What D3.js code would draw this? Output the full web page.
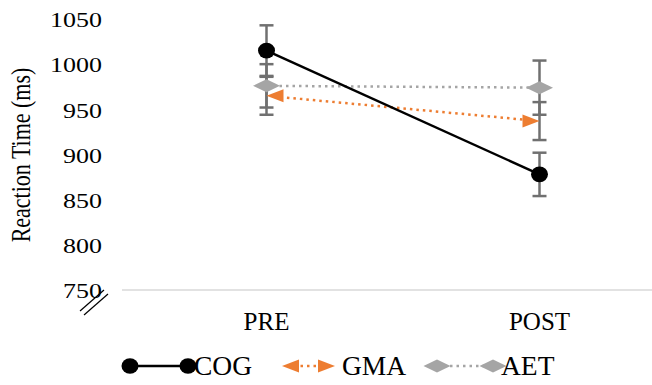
<!DOCTYPE html>
<html><head><meta charset="utf-8">
<script src="https://cdn.jsdelivr.net/npm/d3@7"></script>
<style>body{margin:0;background:#fff}svg{display:block}text{font-family:"Liberation Serif","Times New Roman",serif;fill:#000}</style>
</head><body><svg id="c" width="652" height="385"></svg>
<script>
const categories = ["PRE", "POST"];
const seriesNames = ["COG", "GMA", "AET"];
const cogValues = [1015, 878];
const cogErrors = [28, 24];
const gmaValues = [965, 937];
const gmaErrors = [21, 21];
const aetValues = [976, 974];
const aetErrors = [24, 30];
const yTicks = [750, 800, 850, 900, 950, 1000, 1050];
const yLabel = "Reaction Time (ms)";

const svg = d3.select("#c");
const x = d3.scalePoint().domain(categories).range([130, 676]).padding(0.5);
const y = d3.scaleLinear().domain([750, 1050]).range([290, 19]);

const series = [
  {name: seriesNames[0], values: cogValues, errors: cogErrors, color: "#000", dash: null, marker: "circle"},
  {name: seriesNames[1], values: gmaValues, errors: gmaErrors, color: "#ed7d31", dash: "2.5,4", marker: "arrow"},
  {name: seriesNames[2], values: aetValues, errors: aetErrors, color: "#a5a5a5", dash: "2.5,4", marker: "diamond"}
];

// x axis line
svg.append("line").attr("x1", 122).attr("x2", 652).attr("y1", y(750)).attr("y2", y(750))
  .attr("stroke", "#d9d9d9").attr("stroke-width", 1.5);

// y axis tick labels
const yAxis = svg.append("g").attr("transform", "translate(102,0)")
  .call(d3.axisLeft(y).tickValues(yTicks).tickSize(0).tickPadding(0).tickFormat(d3.format("d")));
yAxis.select(".domain").remove();
yAxis.selectAll(".tick text").attr("font-size", 22).attr("fill", "#000")
  .attr("transform", "scale(1.18,1)").attr("x", 0).attr("dy", "0.35em");

// axis break marks
[[0,0],[4,4]].forEach(o => {
  svg.append("line").attr("x1", 80 + o[0]).attr("y1", 311 + o[1]).attr("x2", 104 + o[0]).attr("y2", 290 + o[1])
    .attr("stroke", "#000").attr("stroke-width", 1.2);
});

// x category labels
svg.append("g").selectAll("text").data(categories).join("text")
  .attr("x", d => x(d)).attr("y", 330).attr("text-anchor", "middle").attr("font-size", 25)
  .attr("transform", null)
  .text(d => d);

// y label
svg.append("text").attr("transform", "translate(30,155) rotate(-90) scale(1,1.2)").attr("text-anchor", "middle")
  .attr("font-size", 22).text(yLabel);

// error bars
const ebColor = "#707070";
series.forEach(s => {
  const g = svg.append("g");
  categories.forEach((c, i) => {
    const cx = x(c), hi = y(s.values[i] + s.errors[i]), lo = y(s.values[i] - s.errors[i]);
    g.append("line").attr("x1", cx).attr("x2", cx).attr("y1", hi).attr("y2", lo).attr("stroke", ebColor).attr("stroke-width", 2.5);
    [hi, lo].forEach(yy => g.append("line").attr("x1", cx - 7).attr("x2", cx + 7).attr("y1", yy).attr("y2", yy).attr("stroke", ebColor).attr("stroke-width", 2.5));
  });
});

function drawMarker(g, type, cx, cy, color, dir) {
  if (type === "circle") {
    g.append("ellipse").attr("cx", cx).attr("cy", cy).attr("rx", 8.5).attr("ry", 7.8).attr("fill", color);
  } else if (type === "diamond") {
    g.append("path").attr("d", `M${cx-13.5},${cy}L${cx},${cy-6.5}L${cx+13.5},${cy}L${cx},${cy+6.5}Z`).attr("fill", color);
  } else if (type === "arrow") {
    const base = cx - dir * 17;
    g.append("path").attr("d", `M${cx},${cy}L${base},${cy-6.5}L${base},${cy+6.5}Z`).attr("fill", color);
  }
}

// series lines and markers
series.slice().reverse().forEach(s => {
  const g = svg.append("g");
  const pts = categories.map((c, i) => [x(c), y(s.values[i])]);
  let p0 = pts[0], p1 = pts[1];
  if (s.marker === "arrow") {
    const dx = p1[0] - p0[0], dy = p1[1] - p0[1], L = Math.hypot(dx, dy);
    const ux = dx / L, uy = dy / L;
    p0 = [p0[0] + ux * 14, p0[1] + uy * 14];
    p1 = [p1[0] - ux * 14, p1[1] - uy * 14];
  }
  g.append("path").attr("d", d3.line()([p0, p1])).attr("stroke", s.color).attr("stroke-width", 2.5)
    .attr("fill", "none").attr("stroke-dasharray", s.dash);
  pts.forEach((p, i) => drawMarker(g, s.marker, p[0], p[1], s.color, i === 0 ? -1 : 1));
});

// legend
const legY = 366;
const legItems = [
  {s: series[0], x0: 130, x1: 188, tx: 194},
  {s: series[1], x0: 282, x1: 335, tx: 342},
  {s: series[2], x0: 437, x1: 493, tx: 501}
];
legItems.forEach(it => {
  const g = svg.append("g");
  let a = it.x0, b = it.x1;
  if (it.s.marker === "arrow") { a += 12; b -= 12; }
  g.append("line").attr("x1", a).attr("x2", b).attr("y1", legY).attr("y2", legY)
    .attr("stroke", it.s.color).attr("stroke-width", 2.5).attr("stroke-dasharray", it.s.dash);
  drawMarker(g, it.s.marker, it.x0, legY, it.s.color, -1);
  drawMarker(g, it.s.marker, it.x1, legY, it.s.color, 1);
  g.append("text").attr("x", it.tx).attr("y", legY + 9).attr("font-size", 27.5).text(it.s.name);
});
</script></body></html>
